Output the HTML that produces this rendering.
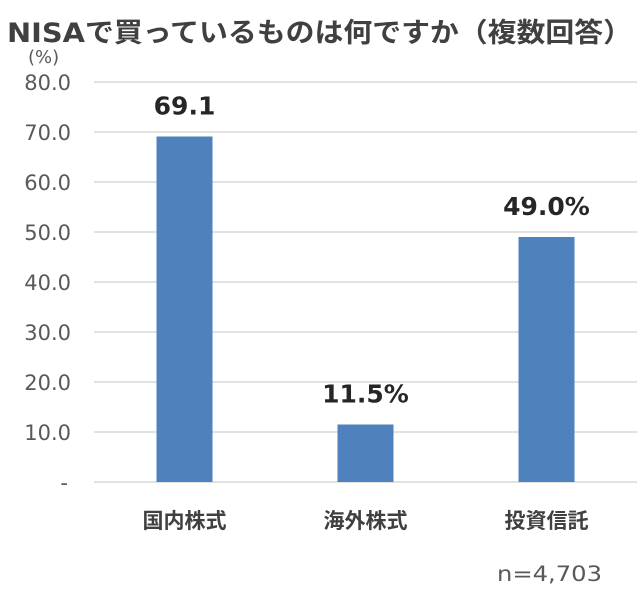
<!DOCTYPE html>
<html><head><meta charset="utf-8"><style>
body{margin:0;background:#fff;width:640px;height:601px;overflow:hidden}
svg{display:block;font-family:"DejaVu Sans","Noto Sans CJK JP",sans-serif}
</style></head><body>
<svg id="c" width="640" height="601">
<text x="7" y="42" font-size="27" font-weight="bold" fill="#404040" textLength="625" lengthAdjust="spacingAndGlyphs">NISAで買っているものは何ですか（複数回答）</text>
<text x="28" y="63" font-size="18" fill="#595959">(%)</text>
<text x="497" y="581" font-size="21" fill="#595959" textLength="105" lengthAdjust="spacingAndGlyphs">n=4,703</text>
<g id="grid"></g><g id="bars"></g>
</svg>
<script>
const categories=["国内株式","海外株式","投資信託"];
const values=[69.1,11.5,49.0];
const valueLabels=["69.1","11.5%","49.0%"];
const yTicks=[0,10,20,30,40,50,60,70,80];
const yTickLabels=["-","10.0","20.0","30.0","40.0","50.0","60.0","70.0","80.0"];
const NS="http://www.w3.org/2000/svg";
const x0=94,x1=637,yBase=482,yTop=82,ymax=80;
const y=v=>yBase-(v/ymax)*(yBase-yTop);
const band=(x1-x0)/categories.length;
const cx=i=>x0+band*(i+0.5);
function mk(tag,attrs,parent){const e=document.createElementNS(NS,tag);for(const k in attrs)e.setAttribute(k,attrs[k]);parent.appendChild(e);return e;}
const grid=document.getElementById('grid'),bars=document.getElementById('bars');
yTicks.forEach((t,i)=>{
 const l=mk('line',{x1:x0,x2:x1,y1:y(t),y2:y(t),stroke:'#d9d9d9','stroke-width':1.5},grid);
 
 
 const tx=mk('text',{x:t===0?68:71,y:y(t)+8,'font-size':21,fill:'#595959','text-anchor':'end'},grid);
 tx.textContent=yTickLabels[i];
 
 
});
const bw=56;
categories.forEach((c,i)=>{
 const r=mk('rect',{x:cx(i)-bw/2,y:y(values[i]),width:bw,height:yBase-y(values[i]),fill:'#4f81bd'},bars);
 
 
 const vl=mk('text',{x:cx(i),y:y(values[i])-22,'font-size':25,'font-weight':'bold',fill:'#262626','text-anchor':'middle'},bars);
 vl.textContent=valueLabels[i];
 
 
 const cl=mk('text',{x:cx(i),y:528,'font-size':21,'font-weight':'bold',fill:'#404040','text-anchor':'middle'},bars);
 cl.textContent=c;
 
 
});
</script>
</body></html>
